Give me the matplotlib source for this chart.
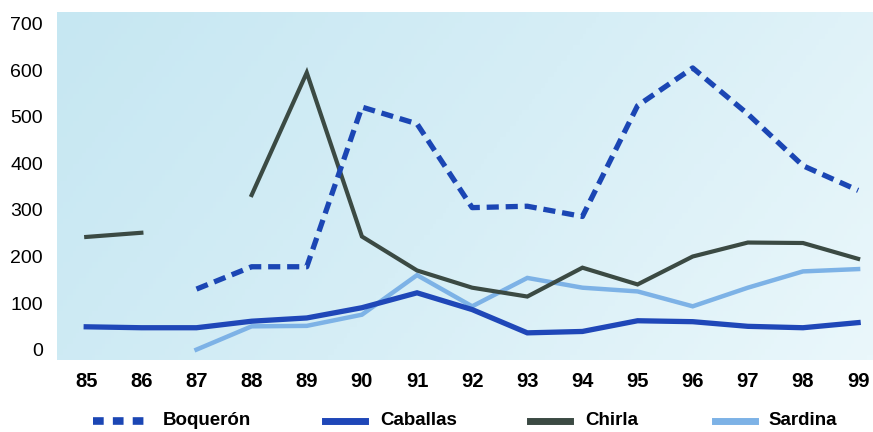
import matplotlib
matplotlib.use('Agg')
import matplotlib.pyplot as plt
import numpy as np
from matplotlib.colors import LinearSegmentedColormap
from matplotlib.lines import Line2D

plt.rcParams['font.family'] = ['Liberation Sans', 'DejaVu Sans']

years = [85, 86, 87, 88, 89, 90, 91, 92, 93, 94, 95, 96, 97, 98, 99]
year_labels = [str(y) for y in years]

# nan = sin dato
boqueron = [np.nan, np.nan, 130, 178, 178, 521, 485, 305, 308, 286, 524, 605, 506, 395, 342]
caballas = [49, 47, 47, 61, 68, 90, 122, 86, 36, 39, 62, 60, 50, 47, 58]
chirla = [242, 251, np.nan, 332, 595, 243, 170, 133, 114, 176, 140, 200, 230, 229, 195]
sardina = [np.nan, np.nan, 0, 50, 51, 75, 160, 93, 154, 133, 125, 93, 133, 168, 173]

series = ['Boquerón', 'Caballas', 'Chirla', 'Sardina']
c_boq = '#1b46b4'
c_cab = '#1f47b8'
c_chi = '#3b4a43'
c_sar = '#7db2e6'

fig = plt.figure(figsize=(8.73, 4.32), dpi=100)
ax = fig.add_axes([0.0653, 0.167, 0.9347, 0.805])

# fondo degradado azul claro
cmap_bg = LinearSegmentedColormap.from_list('bg', ['#c6e7f2', '#d6eef6', '#eaf7fb'])
gx = np.linspace(0, 1, 256)
gy = np.linspace(0, 1, 64)
G = gx[None, :] * 0.75 + gy[:, None] * 0.25
ax.imshow(G, cmap=cmap_bg, extent=[0, 1, 0, 1], transform=ax.transAxes,
          aspect='auto', origin='upper', zorder=0)

ax.plot(years, sardina, color=c_sar, lw=3.2, zorder=2, solid_joinstyle='miter')
ax.plot(years, chirla, color=c_chi, lw=3.0, zorder=3, solid_joinstyle='miter')
ax.plot(years, caballas, color=c_cab, lw=3.8, zorder=4, solid_joinstyle='miter')
ax.plot(years, boqueron, color=c_boq, lw=3.8, zorder=5, dashes=(2.3, 1.3),
        dash_capstyle='butt')

ax.set_xlim(84.47, 99.27)
ax.set_ylim(-22, 725)
ax.set_xticks(years)
ax.set_xticklabels(year_labels, fontsize=14.5, fontweight='bold')
ax.set_yticks(range(0, 701, 100))
ax.tick_params(axis='y', labelsize=14, length=0, pad=10)
ax.tick_params(axis='x', length=0, pad=9)
for s in ax.spines.values():
    s.set_visible(False)

# leyenda manual (posiciones en fraccion de figura)
ly = 0.026
leg_items = [
    (0.107, 0.165, 0.186, dict(color=c_boq, lw=5.5, dashes=(1.4, 1.2), dash_capstyle='butt')),
    (0.372, 0.418, 0.435, dict(color=c_cab, lw=5)),
    (0.607, 0.653, 0.670, dict(color=c_chi, lw=5)),
    (0.819, 0.865, 0.880, dict(color=c_sar, lw=5)),
]
for name, (x0, x1, xt, st) in zip(series, leg_items):
    fig.add_artist(Line2D([x0, x1], [ly, ly], transform=fig.transFigure, **st))
    fig.text(xt, ly, name, fontsize=13.5, fontweight='bold', va='center', ha='left')

fig.savefig('out.png', dpi=100)
